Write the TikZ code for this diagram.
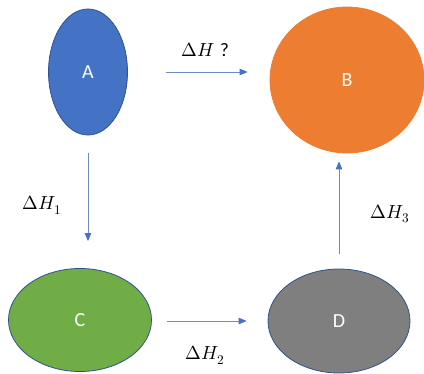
\documentclass[tikz,border=0pt]{standalone}
\usepackage{fontspec}
\usepackage{unicode-math}
\setmathfont{Latin Modern Math}
\newfontfamily\calib{Carlito}
\usetikzlibrary{shapes.geometric,arrows.meta}
\definecolor{ablue}{HTML}{4472C4}
\definecolor{edgeblue}{HTML}{2F528F}
\definecolor{borange}{HTML}{ED7D31}
\definecolor{cgreen}{HTML}{70AD47}
\definecolor{dgray}{HTML}{7F7F7F}
\definecolor{arrline}{RGB}{110,140,200}
\tikzset{
  blob/.style={ellipse, inner sep=0pt, draw=edgeblue, line width=0.8pt,
    text=white, font=\calib\fontsize{20}{24}\selectfont},
  conn/.style={draw=arrline, line width=0.8pt,
    -{Triangle[length=8pt,width=6.5pt,fill=ablue,color=ablue]}},
  lab/.style={inner sep=0pt, font=\fontsize{19}{23}\selectfont}
}
\begin{document}
\begin{tikzpicture}[x=1pt,y=-1pt]
\useasboundingbox (0,0) rectangle (424,374);
\node[blob, fill=ablue, minimum width=79pt, minimum height=126pt] (A) at (88,72) {A};
\node[blob, fill=borange, draw=borange, minimum width=154pt, minimum height=146pt] (B) at (347,80) {B};
\node[blob, fill=cgreen, minimum width=143pt, minimum height=103pt] (C) at (80,320) {C};
\node[blob, fill=dgray, minimum width=142pt, minimum height=104pt] (D) at (339,321) {D};
\draw[conn, shorten <=38pt, shorten >=22pt] (A.east) -- (A.east -| B.west);
\draw[conn, shorten <=18pt, shorten >=27pt] (A.south) -- (A.south |- C.north);
\draw[conn, shorten <=15pt, shorten >=21pt] (C.east |- D.west) -- (D.west);
\draw[conn, shorten <=15pt, shorten >=8pt] (D.north) -- (D.north |- B.south);
\node[lab] (l0) at (205,50) {$\Delta H$ {\calib ?}};
\node[lab] (l1) at (42,205) {$\Delta H_1$};
\node[lab] (l2) at (205,355) {$\Delta H_2$};
\node[lab] (l3) at (390,214) {$\Delta H_3$};
\end{tikzpicture}
\end{document}
